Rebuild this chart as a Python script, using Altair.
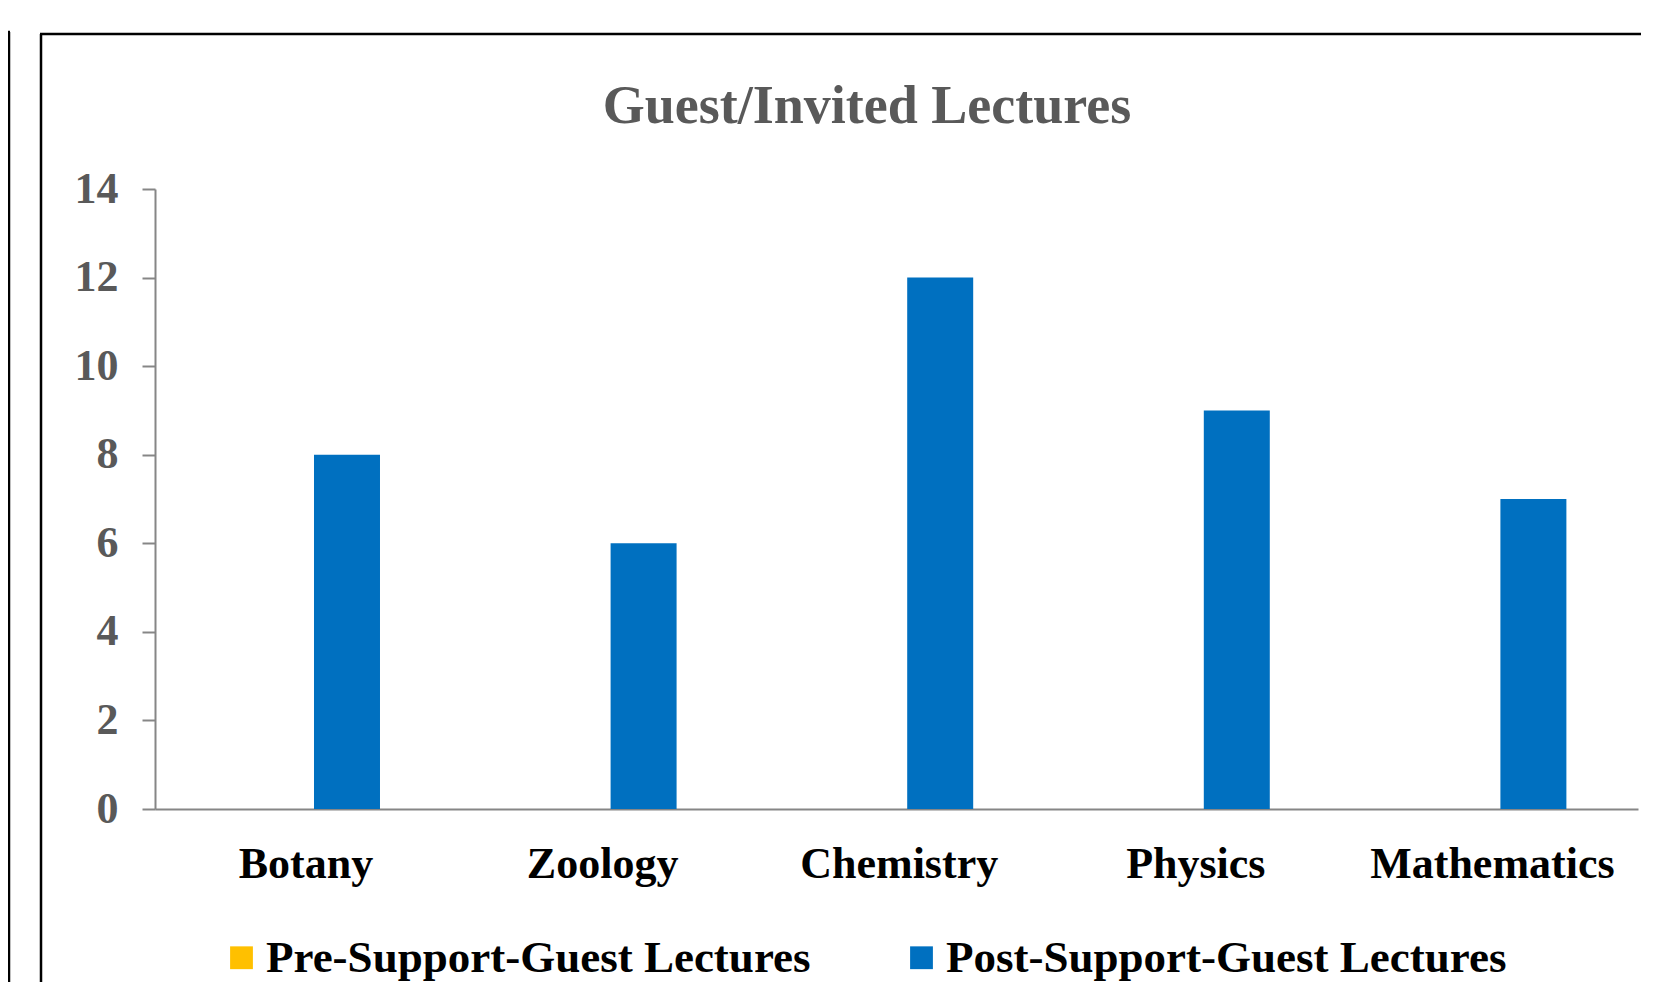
import altair as alt
import pandas as pd

categories = ["Botany", "Zoology", "Chemistry", "Physics", "Mathematics"]
pre_values = [0, 0, 0, 0, 0]
post_values = [8, 6, 12, 9, 7]
series_names = ["Pre-Support-Guest Lectures", "Post-Support-Guest Lectures"]
series_colors = ["#FFC000", "#0070C0"]
y_ticks = [0, 2, 4, 6, 8, 10, 12, 14]
title_text = "Guest/Invited Lectures"

rows = []
for c, v in zip(categories, pre_values):
    rows.append({"Subject": c, "Series": series_names[0], "Value": v})
for c, v in zip(categories, post_values):
    rows.append({"Subject": c, "Series": series_names[1], "Value": v})
df = pd.DataFrame(rows)

W, H = 1483, 620
SERIF = "Liberation Serif"

bars = alt.Chart(df).mark_bar().encode(
    x=alt.X("Subject:N", sort=categories,
            scale=alt.Scale(paddingInner=0.555, paddingOuter=0.2775, align=0.565),
            axis=alt.Axis(title=None, labelAngle=0, ticks=False, labelFont=SERIF,
                          labelFontSize=44, labelFontWeight="bold", labelColor="#000000",
                          labelPadding=33, labelOffset=-8, labelLimit=600,
                          domainColor="#868686", domainWidth=2)),
    xOffset=alt.XOffset("Series:N", sort=series_names),
    y=alt.Y("Value:Q", scale=alt.Scale(domain=[0, 14]),
            axis=alt.Axis(title=None, values=y_ticks, grid=False, tickSize=13,
                          tickColor="#868686", tickWidth=2, domainColor="#868686",
                          domainWidth=2, labelFont=SERIF, labelFontSize=44,
                          labelFontWeight="bold", labelColor="#595959",
                          labelPadding=24)),
    color=alt.Color("Series:N", sort=series_names,
                    scale=alt.Scale(domain=series_names, range=series_colors),
                    legend=alt.Legend(title=None, orient="none", direction="horizontal",
                                      legendX=64, legendY=746, symbolType="square",
                                      symbolSize=520, symbolStrokeWidth=0,
                                      labelFont=SERIF, labelFontSize=45,
                                      labelFontWeight="bold", labelColor="#000000",
                                      labelOffset=2, columnPadding=88,
                                      labelLimit=800)),
)

one = alt.Data(values=[{"k": 1}])
border_left = alt.Chart(one).mark_rule(color="#000000", strokeWidth=2.5).encode(
    x=alt.value(-114), y=alt.value(-155), y2=alt.value(820))
border_top = alt.Chart(one).mark_rule(color="#000000", strokeWidth=2.5).encode(
    x=alt.value(-115), x2=alt.value(1500), y=alt.value(-155))
side_left = alt.Chart(one).mark_rule(color="#000000", strokeWidth=2.5).encode(
    x=alt.value(-146), y=alt.value(-157), y2=alt.value(820))
side_top = alt.Chart(one).mark_rule(color="#000000", strokeWidth=2.5).encode(
    x=alt.value(-150), x2=alt.value(-145), y=alt.value(-157))
title = alt.Chart(one).mark_text(
    text=title_text, font=SERIF, fontSize=54, fontWeight="bold", color="#595959",
    align="center", baseline="alphabetic").encode(
    x=alt.value(712), y=alt.value(-66))

chart = alt.layer(border_left, border_top, side_left, side_top, title, bars).properties(
    width=W, height=H,
    padding={"left": 147, "top": 181, "right": 3, "bottom": 173},
    autosize=alt.AutoSizeParams(type="none"),
).configure_view(stroke=None)

chart.save("out.html", embed_options={"renderer": "svg", "actions": False})
